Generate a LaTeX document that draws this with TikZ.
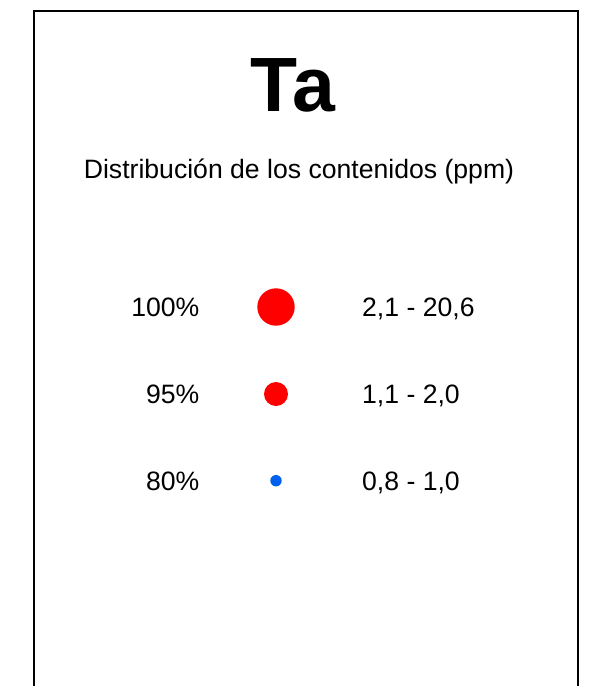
\documentclass[tikz,border=0pt]{standalone}
\usepackage{fontspec}
\setmainfont{Liberation Sans}
\definecolor{dotblue}{HTML}{0060EE}
\begin{document}
\begin{tikzpicture}[x=1pt,y=-1pt,
  lbl/.style={font=\fontsize{26.6}{30}\selectfont, inner sep=0pt},
  dot/.style={circle, inner sep=0pt, draw=none}]
\useasboundingbox (0,0) rectangle (610,686);
\draw[line width=1.3pt] (34,686) -- (34,11) -- (578,11) -- (578,686);
\node[font=\bfseries\fontsize{77}{80}\selectfont, inner sep=0pt, anchor=base] (title) at (293,111) {Ta};
\node[font=\fontsize{26.6}{30}\selectfont, inner sep=0pt, anchor=base] (sub) at (299,178) {Distribución de los contenidos (ppm)};
\node[dot, fill=red, minimum size=37.4pt] (c1) at (276,307) {};
\node[dot, fill=red, minimum size=24pt] (c2) at (276,394) {};
\node[dot, fill=dotblue, minimum size=11.4pt] (c3) at (276,480.7) {};
\node[lbl, anchor=base east] (p1) at (199.5,316.8) {100\%};
\node[lbl, anchor=base east] (p2) at (199.5,403.8) {95\%};
\node[lbl, anchor=base east] (p3) at (199.5,490.5) {80\%};
\node[lbl, anchor=base west] (r1) at (362,316.8) {2,1 - 20,6};
\node[lbl, anchor=base west] (r2) at (362,403.8) {1,1 - 2,0};
\node[lbl, anchor=base west] (r3) at (362,490.5) {0,8 - 1,0};
\end{tikzpicture}
\end{document}
